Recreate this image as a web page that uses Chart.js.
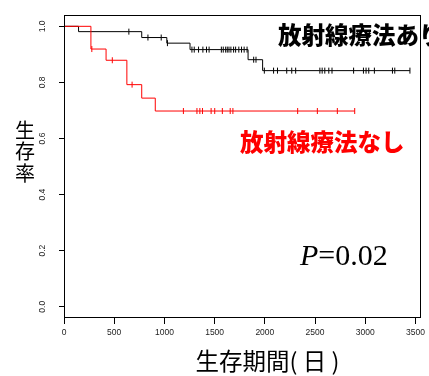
<!DOCTYPE html>
<html>
<head>
<meta charset="utf-8">
<script src="https://cdn.jsdelivr.net/npm/chart.js@4/dist/chart.umd.min.js"></script>
<style>
  html, body { margin: 0; padding: 0; background: #fff; }
  canvas { display: block; }
</style>
</head>
<body>
<canvas id="km" width="429" height="376"></canvas>
<script>
// survival data (days / survival rate)
const withRadEventDays = [145, 774, 1024, 1255, 1833, 1978];
const withRadEventSurv = [0.981, 0.960, 0.940, 0.917, 0.881, 0.842];
const withRadCensorDays = [
  646, 836, 968, 1030, 1274, 1297, 1340, 1383, 1419, 1445, 1567, 1586, 1610,
  1626, 1643, 1662, 1689, 1709, 1741, 1768, 1794, 1823, 1889, 1912, 1995,
  2087, 2126, 2218, 2268, 2307, 2548, 2571, 2597, 2637, 2669, 2884, 2982,
  3008, 3035, 3091, 3271, 3294, 3445,
];

const noRadEventDays = [268, 419, 626, 774, 909];
const noRadEventSurv = [0.919, 0.879, 0.792, 0.744, 0.698];
const noRadCensorDays = [
  277, 481, 678, 1189, 1324, 1353, 1379, 1465, 1501, 1577, 1655, 1682, 2327,
  2523, 2722, 2895,
];

const xTickValues = [0, 500, 1000, 1500, 2000, 2500, 3000, 3500];
const yTickValues = [0, 0.2, 0.4, 0.6, 0.8, 1.0];

const labelWith = "放射線療法あり";
const labelWithout = "放射線療法なし";
const xTitle = "生存期間( 日 )";
const yTitle = ["生", "存", "率"];

// level of the step curve at day t
function levelAt(days, surv, t) {
  let s = 1;
  days.forEach((d, i) => {
    if (d <= t) s = surv[i];
  });
  return s;
}

// merge events and censored times into one step series
function buildCurve(eventDays, eventSurv, censorDays) {
  const pts = [{ x: 0, y: 1, c: false }];
  eventDays.forEach((d, i) => pts.push({ x: d, y: eventSurv[i], c: false }));
  censorDays.forEach((d) =>
    pts.push({ x: d, y: levelAt(eventDays, eventSurv, d), c: true })
  );
  return pts.sort((a, b) => a.x - b.x || (a.c ? 1 : -1));
}

function curveDataset(data, color) {
  return {
    data,
    borderColor: color,
    backgroundColor: color,
    borderWidth: 1,
    stepped: true,
    fill: false,
    pointStyle: "line",
    rotation: 90,
    pointRadius: (ctx) => (ctx.raw && ctx.raw.c ? 3 : 0),
    pointBorderWidth: 1,
    pointBorderColor: color,
  };
}

const tickFont = { family: "'Liberation Sans', Arial, sans-serif", size: 8.5 };

// box, titles and the two group labels
const extrasPlugin = {
  id: "extras",
  afterDraw(chart) {
    const { ctx, chartArea } = chart;
    const { left, right, top, bottom } = chartArea;
    ctx.save();
    ctx.strokeStyle = "#000";
    ctx.lineWidth = 1;
    ctx.strokeRect(
      Math.round(left) + 0.5,
      Math.round(top) + 0.5,
      Math.round(right - left) - 1,
      Math.round(bottom - top) - 1
    );

    ctx.textBaseline = "middle";
    ctx.font = "900 23.5px 'Noto Sans CJK JP'";
    ctx.fillStyle = "#000";
    ctx.textAlign = "left";
    ctx.fillText(labelWith, 278, 35);
    ctx.fillStyle = "#ff0000";
    ctx.fillText(labelWithout, 240, 142.5);

    ctx.fillStyle = "#000";
    ctx.font = "20px 'Noto Sans CJK JP'";
    ctx.textAlign = "center";
    yTitle.forEach((ch, i) => ctx.fillText(ch, 25, 130 + i * 21.5));
    ctx.font = "23.5px 'Noto Sans CJK JP'";
    ctx.fillText(xTitle, 267.5, 361.5);

    // P value, italic P
    ctx.textAlign = "left";
    ctx.textBaseline = "alphabetic";
    ctx.font = "italic 30px 'Liberation Serif'";
    ctx.fillText("P", 300, 265);
    const pw = ctx.measureText("P").width;
    ctx.font = "30px 'Liberation Serif'";
    ctx.fillText("=0.02", 300 + pw, 265);
    ctx.restore();
  },
};

new Chart(document.getElementById("km"), {
  type: "line",
  data: {
    datasets: [
      curveDataset(buildCurve(noRadEventDays, noRadEventSurv, noRadCensorDays), "#ff0000"),
      curveDataset(buildCurve(withRadEventDays, withRadEventSurv, withRadCensorDays), "#000000"),
    ],
  },
  options: {
    responsive: false,
    animation: false,
    devicePixelRatio: 1,
    layout: { padding: { top: 5, right: 6, left: 0, bottom: 0 } },
    plugins: { legend: { display: false }, tooltip: { enabled: false } },
    scales: {
      x: {
        type: "linear",
        min: 0,
        max: 3552,
        afterFit: (s) => { s.height = 58; },
        afterBuildTicks: (s) => { s.ticks = xTickValues.map((v) => ({ value: v })); },
        grid: { drawOnChartArea: false, tickLength: 6, color: "#000" },
        border: { display: false },
        ticks: {
          maxRotation: 0,
          autoSkip: false,
          padding: 4,
          color: "#222",
          font: tickFont,
          callback: (v) => String(v),
        },
      },
      y: {
        type: "linear",
        min: -0.04,
        max: 1.04,
        afterFit: (s) => { s.width = 64; },
        afterBuildTicks: (s) => { s.ticks = yTickValues.map((v) => ({ value: v })); },
        grid: { drawOnChartArea: false, tickLength: 5, color: "#000" },
        border: { display: false },
        ticks: {
          minRotation: 90,
          maxRotation: 90,
          crossAlign: "center",
          padding: 10,
          color: "#222",
          font: tickFont,
          callback: (v) => v.toFixed(1),
        },
      },
    },
  },
  plugins: [extrasPlugin],
});
</script>
</body>
</html>
